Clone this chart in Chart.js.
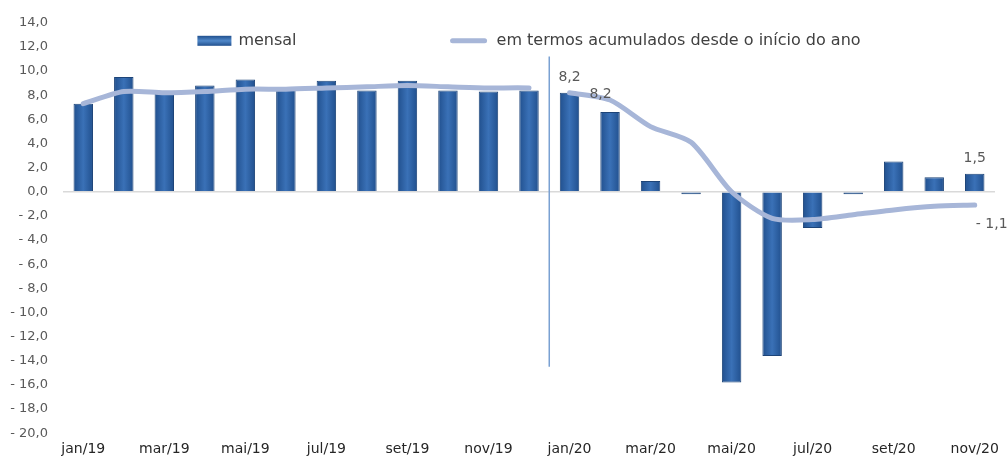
<!DOCTYPE html>
<html>
<head>
<meta charset="utf-8">
<script src="https://cdn.jsdelivr.net/npm/chart.js@4.4.0/dist/chart.umd.min.js"></script>
<style>
  html, body { margin: 0; padding: 0; background: #ffffff; }
  #wrap { width: 1007px; height: 459px; }
</style>
</head>
<body>
<div id="wrap"><canvas id="graph"></canvas></div>
<script>
var months = ['jan/19','fev/19','mar/19','abr/19','mai/19','jun/19','jul/19','ago/19','set/19','out/19','nov/19','dez/19',
  'jan/20','fev/20','mar/20','abr/20','mai/20','jun/20','jul/20','ago/20','set/20','out/20','nov/20'];
var mensal = [7.3, 9.5, 8.1, 8.8, 9.3, 8.5, 9.2, 8.4, 9.2, 8.4, 8.3, 8.4,
  8.2, 6.6, 0.9, -0.2, -15.8, -13.6, -3.0, -0.2, 2.5, 1.2, 1.5];
var acumulado = [7.3, 8.3, 8.2, 8.3, 8.5, 8.5, 8.6, 8.7, 8.8, 8.7, 8.6, 8.6,
  8.2, 7.6, 5.4, 4.1, 0.0, -2.2, -2.3, -1.9, -1.5, -1.2, -1.1];
var labelIdx = [12, 22];
var yearBreak = 11;
var dividerTop = 11.2;
var dividerBottom = -14.5;
var legendNames = ['mensal', 'em termos acumulados desde o início do ano'];

var font = 'DejaVu Sans';

function fmt(v) {
  var s = Math.abs(v).toFixed(1).replace('.', ',');
  return v < 0 ? '- ' + s : s;
}

var extras = {
  id: 'extras',
  beforeDatasetsDraw: function(chart) {
    var ctx = chart.ctx;
    var meta = chart.getDatasetMeta(0);
    meta.data.forEach(function(el) {
      var x0 = el.x - el.width / 2;
      var g = ctx.createLinearGradient(x0, 0, x0 + el.width, 0);
      g.addColorStop(0, '#21508e');
      g.addColorStop(0.5, '#3a71b7');
      g.addColorStop(1, '#21508e');
      el.options = Object.assign({}, el.options, { backgroundColor: g });
    });
  },
  afterDatasetsDraw: function(chart) {
    var ctx = chart.ctx;
    var xs = chart.scales.x, ys = chart.scales.y;
    var ca = chart.chartArea;

    // divider between 2019 and 2020
    var dx = (xs.getPixelForValue(yearBreak) + xs.getPixelForValue(yearBreak + 1)) / 2;
    ctx.save();
    ctx.strokeStyle = '#7aa1d2';
    ctx.lineWidth = 1.5;
    ctx.beginPath();
    ctx.moveTo(dx, ys.getPixelForValue(dividerTop));
    ctx.lineTo(dx, ys.getPixelForValue(dividerBottom));
    ctx.stroke();

    // data labels
    ctx.font = '14px "' + font + '"';
    ctx.fillStyle = '#595959';
    ctx.textAlign = 'center';
    ctx.textBaseline = 'middle';
    var bars = chart.getDatasetMeta(0).data;
    var pts = chart.getDatasetMeta(1).data;
    labelIdx.forEach(function(i) {
      ctx.fillText(fmt(mensal[i]), bars[i].x, bars[i].y - 15);
    });
    ctx.fillText(fmt(acumulado[12]), pts[12].x + 31, pts[12].y + 2);
    ctx.fillText(fmt(acumulado[22]), pts[22].x + 17, pts[22].y + 19);

    // legend
    ctx.font = '16px "' + font + '"';
    var w1 = ctx.measureText(legendNames[0]).width;
    var w2 = ctx.measureText(legendNames[1]).width;
    var total = 34 + 7 + w1 + 154 + 36 + 10 + w2;
    var x = (ca.left + ca.right) / 2 - total / 2;
    var y = ca.top + 18;
    var g = ctx.createLinearGradient(0, y - 5, 0, y + 5);
    g.addColorStop(0, '#21508e');
    g.addColorStop(0.5, '#5088c9');
    g.addColorStop(1, '#21508e');
    ctx.fillStyle = g;
    ctx.fillRect(x, y - 5, 34, 10);
    ctx.fillStyle = '#404040';
    ctx.textAlign = 'left';
    ctx.fillText(legendNames[0], x + 41, y);
    x += 34 + 7 + w1 + 154;
    ctx.strokeStyle = '#a7b6d8';
    ctx.lineWidth = 5;
    ctx.lineCap = 'round';
    ctx.beginPath();
    ctx.moveTo(x + 2, y);
    ctx.lineTo(x + 34, y);
    ctx.stroke();
    ctx.fillText(legendNames[1], x + 46, y);
    ctx.restore();
  }
};

var graph = document.getElementById('graph').getContext('2d');
var myChart = new Chart(graph, {
  type: 'bar',
  data: {
    labels: months,
    datasets: [{
      type: 'bar',
      label: legendNames[0],
      data: mensal,
      backgroundColor: '#2f62a3',
      borderColor: '#1d4478',
      borderWidth: 1,
      barPercentage: 0.48,
      categoryPercentage: 1,
      order: 1
    }, {
      type: 'line',
      label: legendNames[1],
      data: acumulado,
      borderColor: '#a7b6d8',
      borderWidth: 5,
      borderCapStyle: 'round',
      pointRadius: 0,
      tension: 0.25,
      segment: {
        borderColor: function(c) { return c.p0DataIndex === yearBreak ? 'rgba(0,0,0,0)' : undefined; }
      },
      order: 0
    }]
  },
  options: {
    responsive: true,
    maintainAspectRatio: false,
    animation: false,
    layout: { padding: { top: 11, left: 4, right: 12, bottom: 1 } },
    plugins: {
      legend: { display: false },
      tooltip: { enabled: false }
    },
    scales: {
      x: {
        grid: { display: false },
        border: { display: false },
        ticks: {
          autoSkip: false,
          maxRotation: 0,
          padding: 0,
          color: '#262626',
          font: { family: font, size: 14 },
          callback: function(v, i) { return i % 2 === 0 ? months[i] : ''; }
        }
      },
      y: {
        min: -20,
        max: 14,
        border: { display: false },
        afterFit: function(s) { s.width = 59; },
        grid: {
          drawTicks: false,
          color: function(c) { return c.tick && c.tick.value === 0 ? '#d9d9d9' : 'rgba(0,0,0,0)'; },
          lineWidth: 1.5
        },
        ticks: {
          stepSize: 2,
          padding: 15,
          color: '#595959',
          font: { family: font, size: 13 },
          callback: function(v) { return fmt(v); }
        }
      }
    }
  },
  plugins: [extras]
});
</script>
</body>
</html>
